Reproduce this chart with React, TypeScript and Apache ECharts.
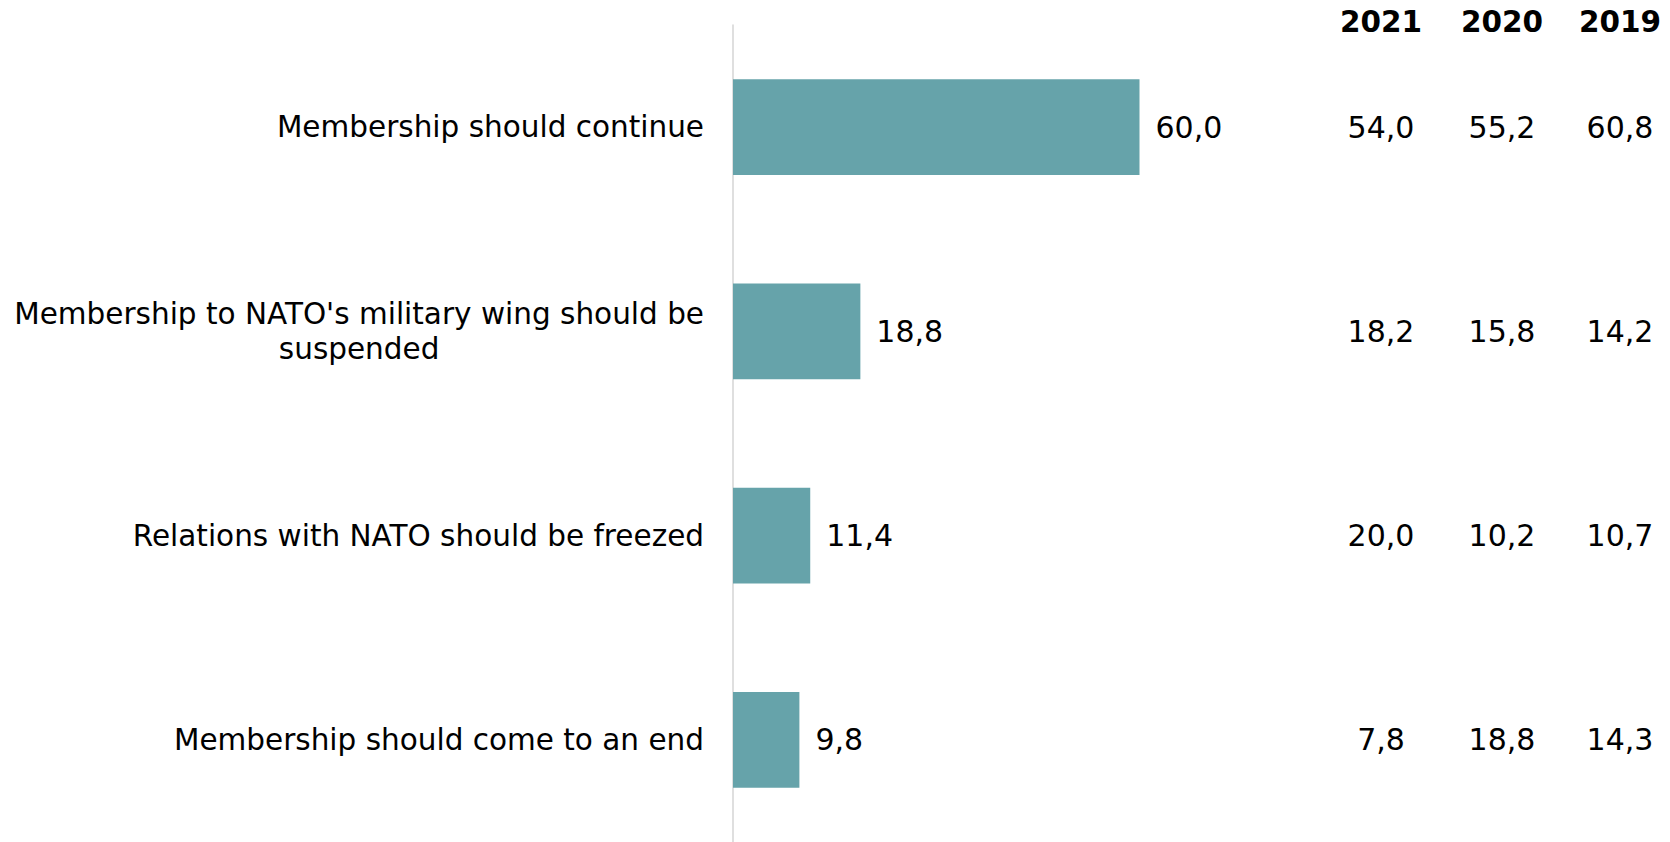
import React, { useEffect, useRef } from "react";
import * as echarts from "echarts";

const categories = [
  "Membership should continue",
  "Membership to NATO's military wing should be suspended",
  "Relations with NATO should be freezed",
  "Membership should come to an end",
];
const values2022 = [60.0, 18.8, 11.4, 9.8];
const years = ["2021", "2020", "2019"];
const values2021 = [54.0, 18.2, 20.0, 7.8];
const values2020 = [55.2, 15.8, 10.2, 18.8];
const values2019 = [60.8, 14.2, 10.7, 14.3];

const fmt = (v: number) => v.toFixed(1).replace(".", ",");

const FONT = "DejaVu Sans, Verdana, sans-serif";
const FS = 29.5;
const FS_NUM = 30;
const GRID_LEFT = 733;
const GRID_TOP = 25;
const X_MAX = 80;
const GRID_WIDTH = 542;
const GRID_RIGHT_X = GRID_LEFT + GRID_WIDTH;
const COL_CENTERS = [1381, 1502, 1620];

function wrapLabel(s: string): string {
  const limit = 45;
  if (s.length <= limit) return `{c|${s}}`;
  const words = s.split(" ");
  const lines: string[] = [];
  let cur = "";
  for (const w of words) {
    const next = cur ? cur + " " + w : w;
    if (next.length > limit && cur) {
      lines.push(cur);
      cur = w;
    } else cur = next;
  }
  if (cur) lines.push(cur);
  return lines.map((l) => `{c|${l}}`).join("\n");
}

export default function App() {
  const ref = useRef<HTMLDivElement>(null);
  useEffect(() => {
    if (!ref.current) return;
    const chart = echarts.init(ref.current, undefined, { renderer: "svg" });
    const tableCols = [values2021, values2020, values2019];
    const option: any = {
      animation: false,
      backgroundColor: "#ffffff",
      textStyle: { fontFamily: FONT },
      grid: { left: GRID_LEFT, top: GRID_TOP, width: GRID_WIDTH, bottom: 0, containLabel: false },
      xAxis: {
        type: "value",
        min: 0,
        max: X_MAX,
        show: false,
      },
      yAxis: [
        {
          type: "category",
          data: categories,
          inverse: true,
          axisLine: { show: true, lineStyle: { color: "#d4d4d4", width: 1.5 } },
          axisTick: { show: false },
          splitLine: { show: false },
          axisLabel: {
            margin: 29,
            color: "#000",
            fontFamily: FONT,
            fontSize: FS,
            formatter: (s: string) => wrapLabel(s),
            rich: {
              c: { fontFamily: FONT, fontSize: FS, color: "#000", align: "center", lineHeight: 35 },
            },
          },
        },
        ...tableCols.map((col, i) => ({
          type: "category",
          data: col.map(fmt),
          inverse: true,
          position: "right",
          offset: COL_CENTERS[i] - GRID_RIGHT_X,
          axisLine: { show: false },
          axisTick: { show: false },
          splitLine: { show: false },
          axisLabel: {
            margin: 0,
            align: "center",
            color: "#000",
            fontFamily: FONT,
            fontSize: FS_NUM,
          },
        })),
      ],
      graphic: years.map((y, i) => ({
        type: "text",
        x: COL_CENTERS[i],
        y: 22,
        style: {
          text: y,
          fontFamily: FONT,
          fontSize: FS,
          fontWeight: "bold",
          fill: "#000",
          textAlign: "center",
          textVerticalAlign: "middle",
        },
      })),
      series: [
        {
          type: "bar",
          data: values2022,
          yAxisIndex: 0,
          barCategoryGap: "53%",
          itemStyle: { color: "#66a3aa" },
          label: {
            show: true,
            position: "right",
            distance: 16,
            color: "#000",
            fontFamily: FONT,
            fontSize: FS_NUM,
            formatter: (p: any) => fmt(p.value),
          },
        },
      ],
    };
    chart.setOption(option);
    return () => chart.dispose();
  }, []);
  return (
    <div
      ref={ref}
      style={{ position: "fixed", left: 0, top: 0, width: 1670, height: 842 }}
    />
  );
}
